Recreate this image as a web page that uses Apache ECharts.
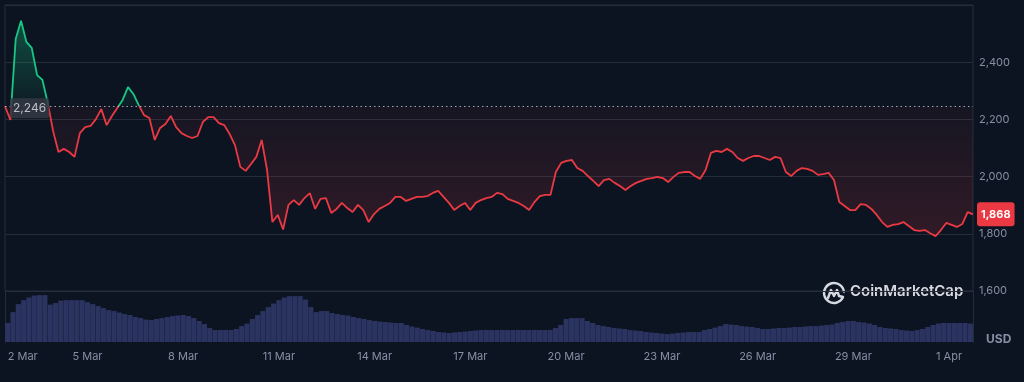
<!DOCTYPE html>
<html><head><meta charset="utf-8">
<script src="https://cdn.jsdelivr.net/npm/echarts@6/dist/echarts.min.js"></script>
<style>html,body{margin:0;padding:0;background:#0d1421;}#c{width:1024px;height:382px;}</style>
</head><body><div id="c"></div>
<script>
// ---- data ----
const startTimeUTC = Date.UTC(2025, 2, 2, 12);   // first sample: 2 Mar 12:00
const stepHours = 4;
const monthNames = ['Jan','Feb','Mar','Apr','May','Jun','Jul','Aug','Sep','Oct','Nov','Dec'];
const tickLabels = ['2 Mar','5 Mar','8 Mar','11 Mar','14 Mar','17 Mar','20 Mar','23 Mar','26 Mar','29 Mar','1 Apr'];
const priceTicks = [1600, 2600, 200];   // min, max, step
const openPrice = 2246;
const lastPrice = 1868;
const prices = [
  2246, 2198, 2481, 2545, 2471, 2450, 2355, 2338, 2257, 2159,
  2086, 2097, 2086, 2069, 2152, 2173, 2177, 2201, 2236, 2180,
  2212, 2240, 2268, 2313, 2289, 2250, 2215, 2205, 2128, 2170,
  2184, 2212, 2173, 2152, 2142, 2135, 2142, 2191, 2208, 2208,
  2187, 2180, 2149, 2110, 2034, 2020, 2044, 2069, 2128, 2023,
  1841, 1866, 1815, 1901, 1918, 1901, 1925, 1942, 1887, 1922,
  1925, 1873, 1887, 1908, 1890, 1876, 1901, 1883, 1841, 1869,
  1887, 1897, 1908, 1929, 1929, 1915, 1922, 1929, 1929, 1932,
  1943, 1950, 1929, 1908, 1883, 1897, 1908, 1883, 1908, 1918,
  1925,
  1929, 1943, 1939, 1922, 1915, 1908, 1897, 1883, 1911, 1932,
  1936, 1936, 2016, 2048, 2055, 2058, 2030, 2020, 2002, 1985,
  1967, 1988, 1992, 1978, 1967, 1953, 1967, 1978, 1985, 1992,
  1995, 1999, 1995, 1981, 1999, 2013, 2016, 2016, 2002, 1992,
  2023, 2083, 2090, 2086, 2097, 2086, 2065, 2055, 2065, 2072,
  2072, 2065, 2058, 2069, 2065, 2016, 2002, 2020, 2030, 2027,
  2020, 2006, 2009, 2013, 1988, 1911, 1897, 1883, 1883, 1904,
  1901, 1887, 1866, 1841, 1824, 1831, 1834, 1841, 1827, 1813,
  1810, 1813, 1802, 1792, 1813, 1838, 1831, 1824, 1834, 1876, 1868
];
// volume, billions USD
const volumes = [
  16.2, 25.5, 32.3, 35.7, 37.9, 39.6, 40, 40, 31.9, 33.2,
  35.3, 35.7, 35.7, 35.7, 35.7, 34, 32.3, 30.6, 28.9, 27.2,
  26.4, 25.1, 23.8, 23, 21.3, 20.4, 19.1, 18.7, 19.6, 20.4,
  21.3, 22.1, 22.6, 23, 22.1, 20.4, 17.9, 15.3, 11.9, 10.2,
  10.2, 10.2, 10.2, 11.1, 13.6, 15.7, 19.6, 23, 26.4, 29.8,
  32.8, 35.7, 37.9, 39.1, 39.1, 39.1, 36.2, 29.8, 25.5, 26.4,
  26.4, 24.7, 23.8, 23, 22.6, 21.3, 20.4, 19.6, 18.7, 17.9,
  17.4, 17, 16.6, 16.2, 16.2, 14.5, 13.2, 12.3, 11.1, 10.2,
  9.4, 8.5, 8.1, 7.7, 8.1, 8.5, 8.9, 9.4, 9.8, 10.2,
  10.2, 10.2, 10.2, 10.2, 10.2, 10.2, 10.2, 10.2, 10.2, 10.2,
  10.2, 10.2, 10.2, 11.9, 14.5, 19.6, 20.4, 20.4, 20.4, 17.9,
  16.2, 14.5, 13.6, 12.8, 11.9, 11.5, 11.1, 10.2, 9.8, 9.4,
  8.5, 8.1, 7.7, 7.2, 6.8, 7.2, 7.7, 8.1, 8.5, 8.5,
  8.5, 10.2, 11.1, 12.3, 13.6, 15.3, 14.9, 14.5, 13.6, 13.2,
  12.8, 11.9, 11.1, 11.1, 11.5, 11.9, 11.9, 12.3, 12.8, 12.8,
  13.2, 13.6, 13.6, 14, 14.5, 14.9, 16.2, 17, 17.9, 17.9,
  17, 16.6, 15.7, 14.5, 12.8, 11.9, 11.5, 11.1, 10.2, 9.8,
  9.4, 10.2, 11.1, 12.8, 14.5, 15.7, 16.2, 16.2, 16.2, 16.2, 16.2, 15.7
];
const categories = prices.map((_, i) => startTimeUTC + i * stepHours * 3600000);

function dayLabel(t) { const d = new Date(t); return d.getUTCDate() + ' ' + monthNames[d.getUTCMonth()]; }

// ---- styles ----
const GREEN = '#16c784', RED = '#ea3943';
const LINE_C = '#262c3a';
const TXT_C = '#878fa3';
const FONT = 'Inter, "Noto Sans", sans-serif';
const PLOT_TOP = 5, PLOT_H = 286;

const chart = echarts.init(document.getElementById('c'), null, {renderer: 'canvas'});
const baseFrac = (priceTicks[1] - openPrice) / (priceTicks[1] - priceTicks[0]);

chart.setOption({
  backgroundColor: '#0d1421',
  animation: false,
  textStyle: {fontFamily: FONT},
  grid: [
    {left: 5, right: 51, top: PLOT_TOP, height: PLOT_H, show: true, borderColor: LINE_C, borderWidth: 1},
    {left: 5, right: 51, top: PLOT_TOP + PLOT_H, bottom: 40}
  ],
  xAxis: [
    {type: 'category', gridIndex: 0, data: categories, boundaryGap: false, show: false},
    {type: 'category', gridIndex: 1, data: categories, boundaryGap: true,
      axisLine: {show: false}, axisTick: {show: false},
      axisLabel: {
        color: TXT_C, fontSize: 11, margin: 9, fontFamily: FONT,
        alignMinLabel: 'left',
        interval: (i, v) => {
          const d = new Date(+v);
          return tickLabels.includes(dayLabel(+v)) && (i === 0 || d.getUTCHours() === 0);
        },
        formatter: v => dayLabel(+v)
      }
    }
  ],
  yAxis: [
    {type: 'value', gridIndex: 0, position: 'right', min: priceTicks[0], max: priceTicks[1], interval: priceTicks[2],
      axisLine: {show: false}, axisTick: {show: false},
      splitLine: {lineStyle: {color: LINE_C, width: 1}},
      axisLabel: {color: TXT_C, fontSize: 11, margin: 6, showMaxLabel: false, fontFamily: FONT,
        formatter: v => v.toLocaleString('en-US')}
    },
    {type: 'value', gridIndex: 1, position: 'right', min: 0, max: 43.5,
      axisLine: {show: true, lineStyle: {color: LINE_C}}, axisTick: {show: false},
      axisLabel: {show: false}, splitLine: {show: false}
    },
    {type: 'value', gridIndex: 1, position: 'left', min: 0, max: 43.5,
      axisLine: {show: true, lineStyle: {color: LINE_C}}, axisTick: {show: false},
      axisLabel: {show: false}, splitLine: {show: false}
    }
  ],
  series: [
    {
      type: 'bar', xAxisIndex: 1, yAxisIndex: 1, data: volumes,
      barCategoryGap: '4%',
      itemStyle: {color: '#2b3461'},
      silent: true
    },
    {
      type: 'line', xAxisIndex: 0, yAxisIndex: 0, data: prices,
      symbol: 'none', smooth: false,
      lineStyle: {
        width: 1.8,
        color: {
          type: 'linear', x: 0, y: PLOT_TOP, x2: 0, y2: PLOT_TOP + PLOT_H, global: true,
          colorStops: [
            {offset: 0, color: GREEN}, {offset: baseFrac, color: GREEN},
            {offset: baseFrac, color: RED}, {offset: 1, color: RED}
          ]
        }
      },
      areaStyle: {
        origin: openPrice,
        color: {
          type: 'linear', x: 0, y: PLOT_TOP, x2: 0, y2: PLOT_TOP + PLOT_H, global: true,
          colorStops: [
            {offset: 0, color: 'rgba(22,199,132,0.55)'},
            {offset: baseFrac, color: 'rgba(22,199,132,0.06)'},
            {offset: baseFrac, color: 'rgba(234,57,67,0.06)'},
            {offset: 1, color: 'rgba(234,57,67,0.30)'}
          ]
        }
      },
      markLine: {
        silent: true, symbol: 'none', label: {show: false},
        lineStyle: {color: 'rgba(210,214,222,0.75)', type: [1.5, 3], width: 1},
        data: [{yAxis: openPrice}]
      },
      markPoint: {
        silent: true, symbol: 'circle', symbolSize: 0,
        data: [
          {coord: [0, openPrice], value: openPrice,
            label: {show: true, position: 'right', distance: 5, offset: [0, 2], formatter: p => p.value.toLocaleString('en-US'),
              color: '#b9bdc7', fontSize: 12, fontFamily: FONT, backgroundColor: 'rgba(52,56,68,0.85)',
              padding: [4, 3, 4, 3], borderRadius: 2}},
          {coord: [prices.length - 1, lastPrice], value: lastPrice,
            label: {show: true, position: 'right', distance: 4, formatter: p => p.value.toLocaleString('en-US'),
              color: '#ffffff', fontSize: 11, fontWeight: 'bold', fontFamily: FONT, backgroundColor: RED,
              padding: [7, 4, 6, 4], borderRadius: 3}}
        ]
      }
    }
  ],
  graphic: [
    {type: 'text', left: 986, top: 333, style: {text: 'USD', fill: TXT_C, font: 'bold 12px ' + FONT}},
    {type: 'group', x: 834, y: 293, children: [
      {type: 'arc', shape: {cx: 0, cy: 0, r: 10, startAngle: 0.55, endAngle: 0.55 + Math.PI * 1.78},
        style: {stroke: '#d6d9df', lineWidth: 2.4, fill: 'none', lineCap: 'round'}},
      {type: 'polyline', shape: {points: [[-6, 5], [-3, -3], [0, 3], [3, -3], [5, 3], [9, 4]]},
        style: {stroke: '#d6d9df', lineWidth: 2.4, fill: 'none', lineJoin: 'round', lineCap: 'round'}}
    ]},
    {type: 'text', left: 850, top: 284, style: {text: 'CoinMarketCap', fill: '#d6d9df', font: '600 15px ' + FONT}}
  ]
});
</script>
</body></html>
